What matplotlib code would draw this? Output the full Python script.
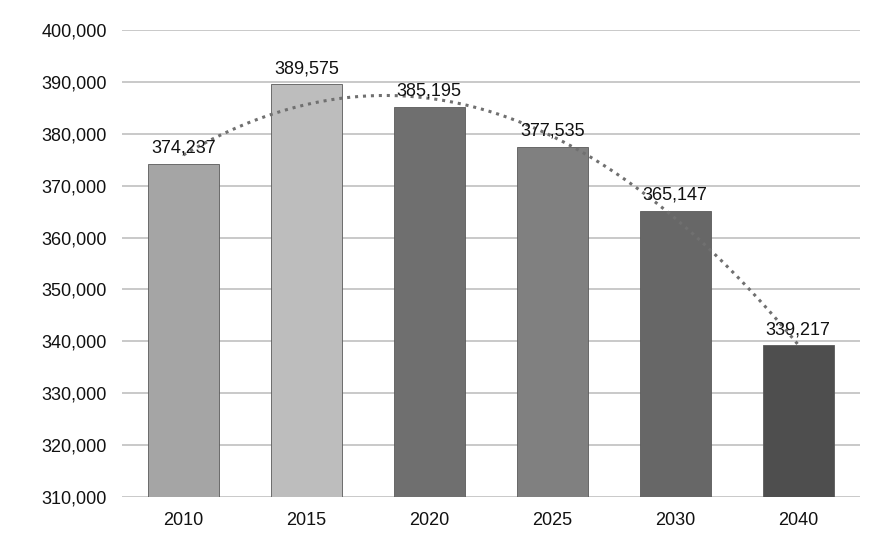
import numpy as np
import matplotlib
matplotlib.use('Agg')
import matplotlib.pyplot as plt

plt.rcParams['font.family'] = ['Liberation Sans', 'DejaVu Sans']

years = ['2010', '2015', '2020', '2025', '2030', '2040']
values = [374237, 389575, 385195, 377535, 365147, 339217]
colors = ['#a5a5a5', '#bdbdbd', '#6f6f6f', '#808080', '#676767', '#4e4e4e']

fig = plt.figure(figsize=(8.71, 5.35), dpi=100)
ax = fig.add_axes([0.140, 0.071, 0.847, 0.873])

x = np.arange(len(years))
ax.bar(x, values, width=0.58, color=colors, edgecolor='#5a5a5a', linewidth=0.6, zorder=2)

for xi, v in zip(x, values):
    ax.annotate(f'{v:,}', xy=(xi, v), xytext=(0, 5), textcoords='offset points',
                ha='center', va='bottom', fontsize=13, color='#111111', zorder=4)

# polynomial (order 2) trendline, like the spreadsheet one
coef = np.polyfit(x + 1, values, 2)
xs = np.linspace(0, len(years) - 1, 200)
ax.plot(xs, np.polyval(coef, xs + 1), linestyle=(0, (1, 1.6)), color='#707070',
        linewidth=2.2, zorder=3)

ax.set_ylim(310000, 400000)
ax.set_xlim(-0.5, len(years) - 0.5)
ax.set_yticks(np.arange(310000, 400001, 10000))
ax.yaxis.set_major_formatter(matplotlib.ticker.FuncFormatter(lambda v, p: f'{int(v):,}'))
ax.set_xticks(x)
ax.set_xticklabels(years)
ax.tick_params(axis='both', length=0, labelsize=13, colors='#111111')
ax.tick_params(axis='y', pad=11)
ax.tick_params(axis='x', pad=11)
ax.grid(axis='y', color='#c0c0c0', linewidth=1.2, zorder=0)
ax.set_axisbelow(True)
for s in ax.spines.values():
    s.set_visible(False)

plt.savefig('out.png', dpi=100)
plt.close()
